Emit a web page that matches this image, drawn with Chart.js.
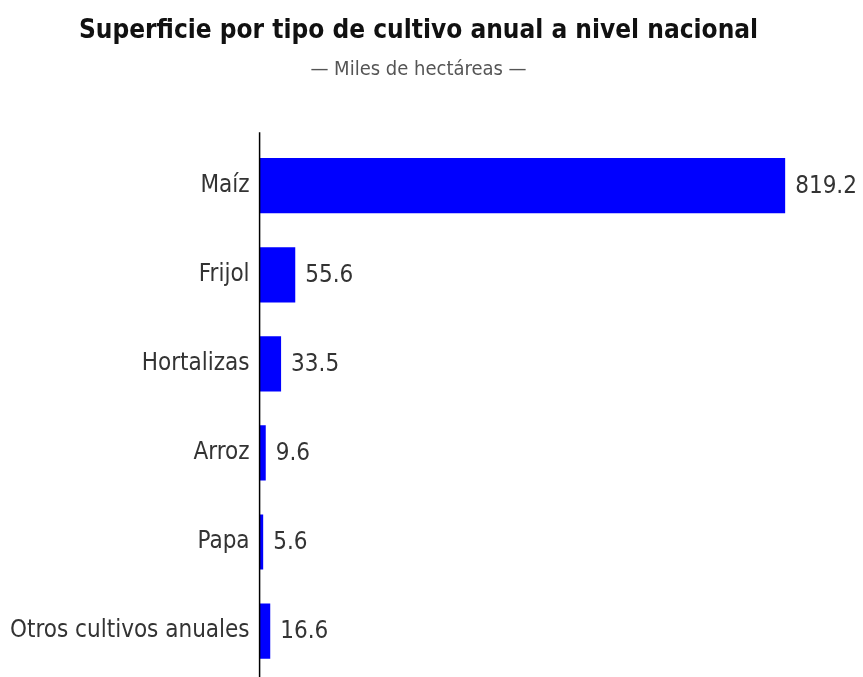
<!DOCTYPE html>
<html>
<head>
<meta charset="utf-8">
<script src="https://cdn.jsdelivr.net/npm/chart.js@4.4.1/dist/chart.umd.min.js"></script>
<style>
  html, body { margin: 0; padding: 0; background: #fff; overflow: hidden; }
  #wrap { width: 863px; height: 700px; }
</style>
</head>
<body>
<div id="wrap"><canvas id="cultivos"></canvas></div>
<script>
// datos
const categorias = ['Maíz', 'Frijol', 'Hortalizas', 'Arroz', 'Papa', 'Otros cultivos anuales'];
const superficie = [819.2, 55.6, 33.5, 9.6, 5.6, 16.6];
const titulo = 'Superficie por tipo de cultivo anual a nivel nacional';
const subtitulo = '— Miles de hectáreas —';

const fuente = "'Liberation Sans Narrow', 'DejaVu Sans Condensed', 'Open Sans', sans-serif";

// etiquetas de valor y linea del eje
const valorPlugin = {
  id: 'valorPlugin',
  afterDatasetsDraw(chart) {
    const ctx = chart.ctx;
    const meta = chart.getDatasetMeta(0);
    ctx.save();
    ctx.font = '24px ' + fuente;
    ctx.fillStyle = '#333333';
    ctx.textAlign = 'left';
    ctx.textBaseline = 'middle';
    meta.data.forEach(function (bar, i) {
      ctx.fillText(superficie[i].toFixed(1), bar.x + 10, bar.y + 1);
    });
    // eje vertical
    const x = chart.scales.y.right;
    ctx.strokeStyle = '#000';
    ctx.lineWidth = 1.5;
    ctx.beginPath();
    ctx.moveTo(x, chart.chartArea.top - 9);
    ctx.lineTo(x, chart.height);
    ctx.stroke();
    ctx.restore();
  }
};

const ctx = document.getElementById('cultivos').getContext('2d');
const myChart = new Chart(ctx, {
  type: 'bar',
  data: {
    labels: categorias,
    datasets: [{
      data: superficie,
      backgroundColor: '#0000ff',
      borderWidth: 0,
      categoryPercentage: 1,
      barPercentage: 0.62
    }]
  },
  options: {
    indexAxis: 'y',
    responsive: true,
    maintainAspectRatio: false,
    animation: false,
    layout: { padding: { left: 0, right: 26, top: 0, bottom: 0 } },
    plugins: {
      legend: { display: false },
      tooltip: { enabled: false },
      title: {
        display: true,
        text: titulo,
        color: '#111111',
        font: { family: fuente, size: 26, weight: 'bold' },
        padding: { top: 16, bottom: 11 }
      },
      subtitle: {
        display: true,
        text: subtitulo,
        color: '#555555',
        font: { family: fuente, size: 20 },
        padding: { top: 0, bottom: 59 }
      }
    },
    scales: {
      x: {
        display: false,
        min: 0,
        max: 900
      },
      y: {
        grid: { display: false, drawTicks: false },
        border: { display: false },
        ticks: {
          color: '#333333',
          padding: 10,
          font: { family: fuente, size: 24 }
        }
      }
    }
  },
  plugins: [valorPlugin]
});
</script>
</body>
</html>
